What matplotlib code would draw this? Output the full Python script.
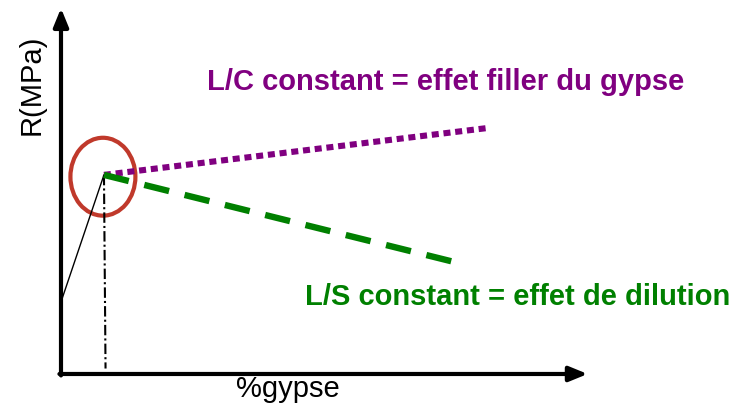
import matplotlib
matplotlib.use("Agg")
import matplotlib.pyplot as plt
from matplotlib.patches import Ellipse

# schematic values (x = %gypse, y = R in arbitrary units, axes go 0..10)
x_start, y_start = 0.0, 1.98
x_peak, y_peak = 0.82, 5.47
lc_end = (8.15, 6.76)   # L/C constant
ls_end = (7.58, 3.05)   # L/S constant

label_lc = "L/C constant = effet filler du gypse"
label_ls = "L/S constant = effet de dilution"
xlabel = "%gypse"
ylabel = "R(MPa)"

purple = "#800080"
green = "#008000"

plt.rcParams['font.family'] = ['Liberation Sans', 'DejaVu Sans']

fig = plt.figure(figsize=(7.33, 4.09), dpi=100)
ax = fig.add_axes([0, 0, 1, 1])
ax.set_xlim(-1.164, 12.824)
ax.set_ylim(-0.962, 10.275)
ax.axis('off')

# axes with arrows
ax.annotate("", xy=(10.05, 0), xytext=(-0.03, 0),
            arrowprops=dict(arrowstyle="-|>,head_length=1.1,head_width=0.45",
                            lw=3, color="black", shrinkA=0, shrinkB=0))
ax.annotate("", xy=(0, 10.05), xytext=(0, -0.04),
            arrowprops=dict(arrowstyle="-|>,head_length=1.1,head_width=0.45",
                            lw=3, color="black", shrinkA=0, shrinkB=0))

# thin rising line and dash-dot drop line
ax.plot([x_start, x_peak], [y_start, y_peak], color="black", lw=1)
ax.plot([x_peak, x_peak + 0.03], [y_peak, 0.15], color="black", lw=1.5,
        linestyle=(0, (5, 1.5, 1, 1.5)))

# the two trends
ax.plot([x_peak, lc_end[0]], [y_peak, lc_end[1]], color=purple, lw=4.4,
        linestyle=(0, (1.15, 0.78)), dash_capstyle='butt')
ax.plot([x_peak, ls_end[0]], [y_peak, ls_end[1]], color=green, lw=4.6,
        linestyle=(0, (4.0, 2.5)), dash_capstyle='butt')

# red circle
ax.add_patch(Ellipse((x_peak - 0.02, y_peak - 0.05), 1.24, 2.14, fill=False,
                     edgecolor="#c0392b", lw=3))

ax.text(2.79, 8.02, label_lc, color=purple, fontsize=21, fontweight='bold',
        ha='left', va='center')
ax.text(4.66, 2.12, label_ls, color=green, fontsize=21, fontweight='bold',
        ha='left', va='center')
ax.text(4.33, -0.41, xlabel, fontsize=21, ha='center', va='center')
ax.text(-0.57, 7.94, ylabel, fontsize=21, ha='center', va='center', rotation=90)

fig.savefig("out.png", dpi=100)
